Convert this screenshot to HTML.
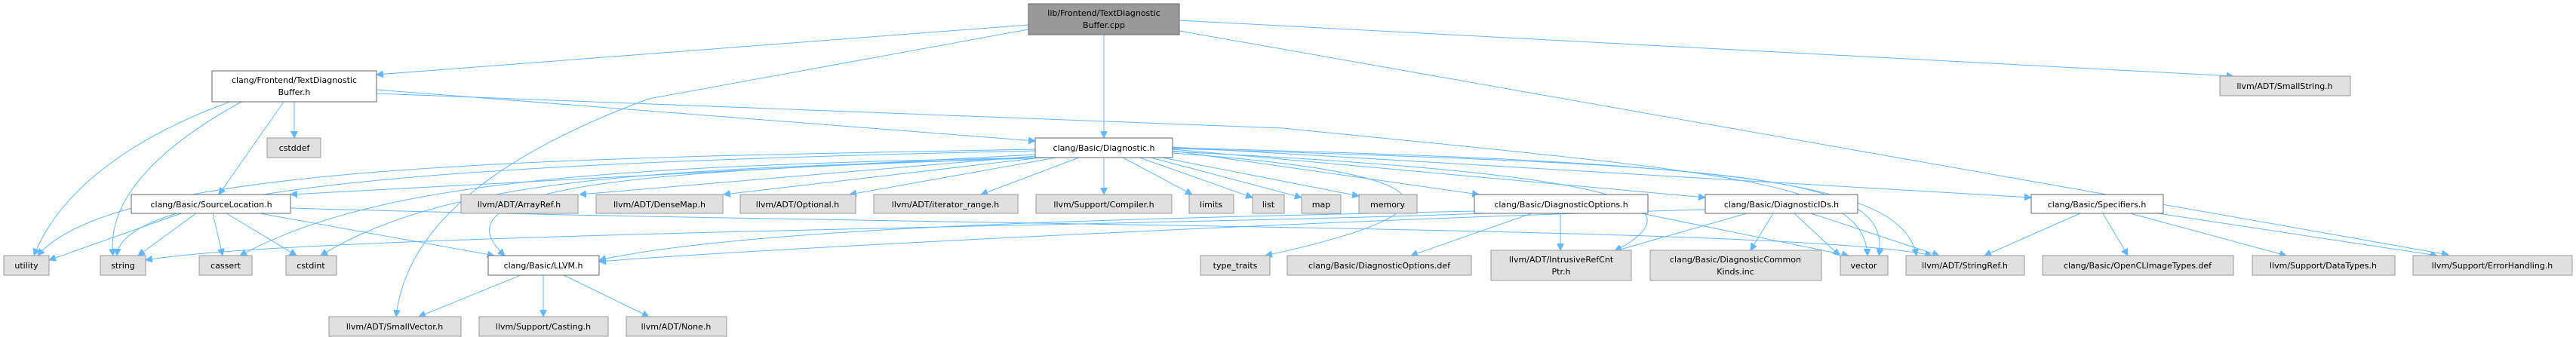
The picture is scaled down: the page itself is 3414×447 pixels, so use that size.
<!DOCTYPE html>
<html><head><meta charset="utf-8"><style>
html,body{margin:0;padding:0;background:#fff;width:3414px;height:447px;overflow:hidden}
text{font-family:"DejaVu Sans","Liberation Sans",sans-serif;font-size:11px;fill:#000}
.w{fill:#fff;stroke:#666;stroke-width:1}
.g{fill:#e0e0e0;stroke:#999;stroke-width:1}
.r{fill:#999;stroke:#666;stroke-width:1}
path{fill:none;stroke:#63b8ff;stroke-width:1}
</style></head><body>
<svg width="3414" height="447" viewBox="0 0 3414 447" xmlns="http://www.w3.org/2000/svg">
<defs><marker id="a" viewBox="0 0 10 10" refX="10" refY="5" markerWidth="9" markerHeight="9" markerUnits="userSpaceOnUse" orient="auto"><path d="M0,0 L10,5 L0,10 z" style="fill:#63b8ff;stroke:#63b8ff"/></marker></defs>
<g marker-end="url(#a)">
<path d="M1363,33 L499,99"/>
<path d="M1463,46 L1463,183"/>
<path d="M1363,39 L860,131 C700,190 540,280 525,420"/>
<path d="M1563,27 L2960,101"/>
<path d="M1563,41 L3245,338"/>
<path d="M305,135 C180,180 80,250 45,339"/>
<path d="M320,135 C220,190 140,260 150,339"/>
<path d="M376,135 L290,258"/>
<path d="M390,135 L390,183"/>
<path d="M499,119 L1372,187"/>
<path d="M499,124 L1700,170 C2300,230 2470,240 2475,339"/>
<path d="M1372,198 C700,210 150,220 50,339"/>
<path d="M1372,200 C700,215 160,240 155,339"/>
<path d="M1372,205 C900,230 500,250 385,258"/>
<path d="M1380,209 C800,220 500,240 318,339"/>
<path d="M1385,209 C900,225 600,230 425,339"/>
<path d="M1390,209 C900,225 560,240 669,339"/>
<path d="M1372,207 L768,258"/>
<path d="M1380,209 L959,258"/>
<path d="M1400,209 L1126,258"/>
<path d="M1430,209 L1300,258"/>
<path d="M1463,209 L1463,258"/>
<path d="M1488,209 L1580,258"/>
<path d="M1510,209 L1660,262"/>
<path d="M1525,209 L1725,262"/>
<path d="M1540,209 L1801,260"/>
<path d="M1554,200 L1960,258"/>
<path d="M1554,198 L2260,262"/>
<path d="M1554,195 L2692,262"/>
<path d="M1554,197 C2300,220 2510,230 2490,339"/>
<path d="M1554,196 C2300,215 2520,240 2540,339"/>
<path d="M1554,201 C2150,230 2260,270 2140,333"/>
<path d="M1554,203 C1930,230 1950,280 1677,339"/>
<path d="M240,283 L65,345"/>
<path d="M260,283 L183,339"/>
<path d="M282,283 L295,339"/>
<path d="M300,283 L393,339"/>
<path d="M344,283 L655,339"/>
<path d="M385,276 C1200,300 2400,300 2560,339"/>
<path d="M690,365 L555,420"/>
<path d="M720,365 L720,420"/>
<path d="M747,365 L860,420"/>
<path d="M1954,280 C1500,290 1000,300 794,345"/>
<path d="M2260,278 C1800,290 1000,330 794,347"/>
<path d="M1967,283 C1500,300 400,310 193,345"/>
<path d="M2030,283 L1870,339"/>
<path d="M2068,283 L2068,332"/>
<path d="M2175,283 L2450,339"/>
<path d="M2315,283 L2140,333"/>
<path d="M2350,283 L2320,332"/>
<path d="M2378,283 L2438,339"/>
<path d="M2400,283 L2570,339"/>
<path d="M2757,283 L2630,339"/>
<path d="M2787,283 L2820,339"/>
<path d="M2823,283 L3030,339"/>
<path d="M2860,283 L3230,339"/>
</g>
<g text-anchor="middle">
<rect class="r" x="1363" y="5" width="200" height="41"/><text x="1463" y="21">lib/Frontend/TextDiagnostic</text><text x="1463" y="37">Buffer.cpp</text>
<rect class="w" x="281" y="94" width="218" height="41"/><text x="390" y="110">clang/Frontend/TextDiagnostic</text><text x="390" y="126">Buffer.h</text>
<rect class="g" x="2942" y="101" width="173" height="26"/><text x="3028" y="118">llvm/ADT/SmallString.h</text>
<rect class="g" x="354" y="183" width="71" height="26"/><text x="390" y="200">cstddef</text>
<rect class="w" x="1372" y="183" width="182" height="26"/><text x="1463" y="200">clang/Basic/Diagnostic.h</text>
<rect class="w" x="174" y="258" width="211" height="25"/><text x="280" y="275">clang/Basic/SourceLocation.h</text>
<rect class="g" x="611" y="258" width="155" height="25"/><text x="688" y="275">llvm/ADT/ArrayRef.h</text>
<rect class="g" x="790" y="258" width="168" height="25"/><text x="874" y="275">llvm/ADT/DenseMap.h</text>
<rect class="g" x="981" y="258" width="153" height="25"/><text x="1057" y="275">llvm/ADT/Optional.h</text>
<rect class="g" x="1158" y="258" width="191" height="25"/><text x="1253" y="275">llvm/ADT/iterator_range.h</text>
<rect class="g" x="1373" y="258" width="180" height="25"/><text x="1463" y="275">llvm/Support/Compiler.h</text>
<rect class="g" x="1576" y="258" width="59" height="25"/><text x="1605" y="275">limits</text>
<rect class="g" x="1660" y="258" width="42" height="25"/><text x="1681" y="275">list</text>
<rect class="g" x="1725" y="258" width="52" height="25"/><text x="1751" y="275">map</text>
<rect class="g" x="1801" y="258" width="77" height="25"/><text x="1839" y="275">memory</text>
<rect class="w" x="1954" y="258" width="230" height="25"/><text x="2069" y="275">clang/Basic/DiagnosticOptions.h</text>
<rect class="w" x="2260" y="258" width="202" height="25"/><text x="2361" y="275">clang/Basic/DiagnosticIDs.h</text>
<rect class="w" x="2692" y="258" width="175" height="25"/><text x="2779" y="275">clang/Basic/Specifiers.h</text>
<rect class="g" x="5" y="339" width="60" height="26"/><text x="35" y="356">utility</text>
<rect class="g" x="133" y="339" width="60" height="26"/><text x="163" y="356">string</text>
<rect class="g" x="264" y="339" width="70" height="26"/><text x="299" y="356">cassert</text>
<rect class="g" x="379" y="339" width="67" height="26"/><text x="412" y="356">cstdint</text>
<rect class="w" x="647" y="339" width="147" height="26"/><text x="720" y="356">clang/Basic/LLVM.h</text>
<rect class="g" x="1591" y="339" width="92" height="26"/><text x="1637" y="356">type_traits</text>
<rect class="g" x="1706" y="339" width="244" height="26"/><text x="1828" y="356">clang/Basic/DiagnosticOptions.def</text>
<rect class="g" x="1976" y="332" width="186" height="40"/><text x="2069" y="348">llvm/ADT/IntrusiveRefCnt</text><text x="2069" y="364">Ptr.h</text>
<rect class="g" x="2187" y="332" width="227" height="40"/><text x="2300" y="348">clang/Basic/DiagnosticCommon</text><text x="2300" y="364">Kinds.inc</text>
<rect class="g" x="2439" y="339" width="63" height="26"/><text x="2470" y="356">vector</text>
<rect class="g" x="2526" y="339" width="157" height="26"/><text x="2604" y="356">llvm/ADT/StringRef.h</text>
<rect class="g" x="2707" y="339" width="253" height="26"/><text x="2833" y="356">clang/Basic/OpenCLImageTypes.def</text>
<rect class="g" x="2985" y="339" width="189" height="26"/><text x="3079" y="356">llvm/Support/DataTypes.h</text>
<rect class="g" x="3198" y="339" width="211" height="26"/><text x="3303" y="356">llvm/Support/ErrorHandling.h</text>
<rect class="g" x="436" y="420" width="175" height="26"/><text x="523" y="437">llvm/ADT/SmallVector.h</text>
<rect class="g" x="635" y="420" width="171" height="26"/><text x="720" y="437">llvm/Support/Casting.h</text>
<rect class="g" x="830" y="420" width="133" height="26"/><text x="896" y="437">llvm/ADT/None.h</text>
</g>
</svg>
</body></html>
